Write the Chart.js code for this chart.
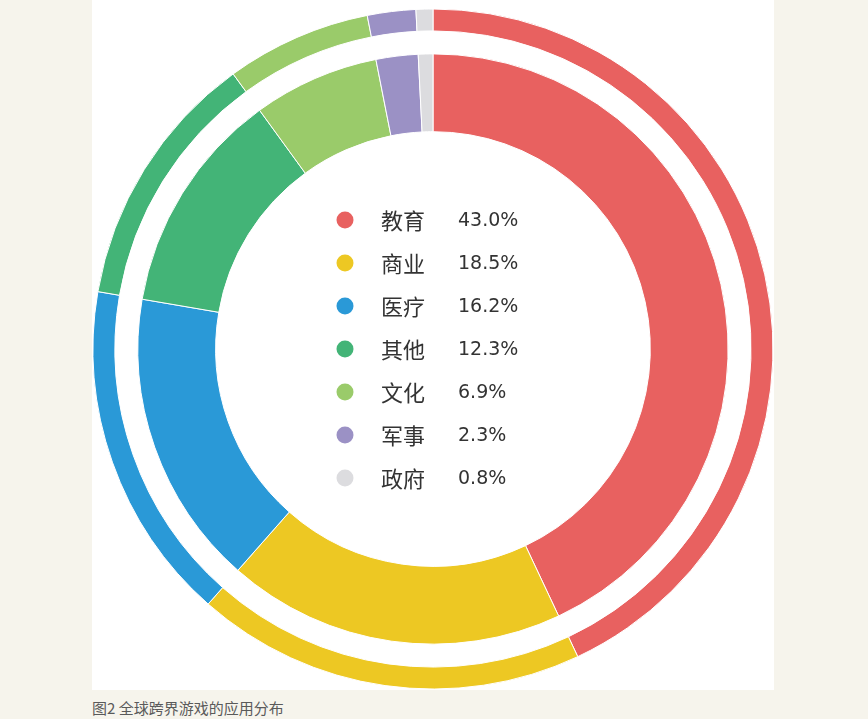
<!DOCTYPE html>
<html>
<head>
<meta charset="utf-8">
<script src="https://cdn.jsdelivr.net/npm/chart.js@4.4.1/dist/chart.umd.min.js"></script>
<style>
    html, body { margin: 0; padding: 0; }
    body { width: 868px; height: 719px; background: #f6f4ec; position: relative; overflow: hidden; }
    #panel { position: absolute; left: 92px; top: 0; width: 682px; height: 690px; background: #ffffff; }
    #chartBox { position: absolute; left: 93px; top: 9px; width: 680px; height: 680px; }
    #caption { position: absolute; left: 92px; top: 697px; font: 15px "Noto Sans CJK SC", sans-serif; color: #5a5a5a; }
</style>
</head>
<body>
<div id="panel"></div>
<div id="chartBox"><canvas id="ringChart"></canvas></div>
<div id="caption">图2 全球跨界游戏的应用分布</div>

<script>
// share of cross-over games by application field (%)
const categories = ['教育', '商业', '医疗', '其他', '文化', '军事', '政府'];
const shares = [43.0, 18.5, 16.2, 12.3, 6.9, 2.3, 0.8];
const sliceColors = ['#e86160', '#edc823', '#2a99d7', '#43b477', '#9acb6a', '#9b91c5', '#dcdcdf'];

document.addEventListener('DOMContentLoaded', function() {

    // draws the list of categories inside the hole
    const centerLegend = {
        id: 'centerLegend',
        afterDraw(chart) {
            const ctx = chart.ctx;
            const area = chart.chartArea;
            const cx = (area.left + area.right) / 2;
            const cy = (area.top + area.bottom) / 2;
            ctx.save();
            ctx.textBaseline = 'middle';
            categories.forEach((name, i) => {
                const y = cy - 129 + i * 43;
                ctx.beginPath();
                ctx.arc(cx - 88, y, 8.5, 0, Math.PI * 2);
                ctx.fillStyle = sliceColors[i];
                ctx.fill();

                ctx.fillStyle = '#333333';
                ctx.textAlign = 'left';
                ctx.font = '22px "Noto Sans CJK SC", sans-serif';
                ctx.fillText(name, cx - 52, y + 1);
                ctx.font = '19px "DejaVu Sans", sans-serif';
                ctx.fillText(shares[i].toFixed(1) + '%', cx + 25, y + 1);
            });
            ctx.restore();
        }
    };

    new Chart(document.getElementById('ringChart'), {
        type: 'doughnut',
        data: {
            labels: categories,
            datasets: [
                { data: shares, backgroundColor: sliceColors, borderColor: '#ffffff', borderWidth: 1, weight: 22 },
                // empty band between the two rings
                { data: shares, backgroundColor: 'rgba(0,0,0,0)', borderWidth: 0, weight: 23 },
                { data: shares, backgroundColor: sliceColors, borderColor: '#ffffff', borderWidth: 1, weight: 78 }
            ]
        },
        options: {
            responsive: true,
            maintainAspectRatio: false,
            animation: false,
            radius: 340,
            cutout: 217,
            plugins: {
                legend: { display: false },
                tooltip: { enabled: false }
            }
        },
        plugins: [centerLegend]
    });
});
</script>
</body>
</html>
